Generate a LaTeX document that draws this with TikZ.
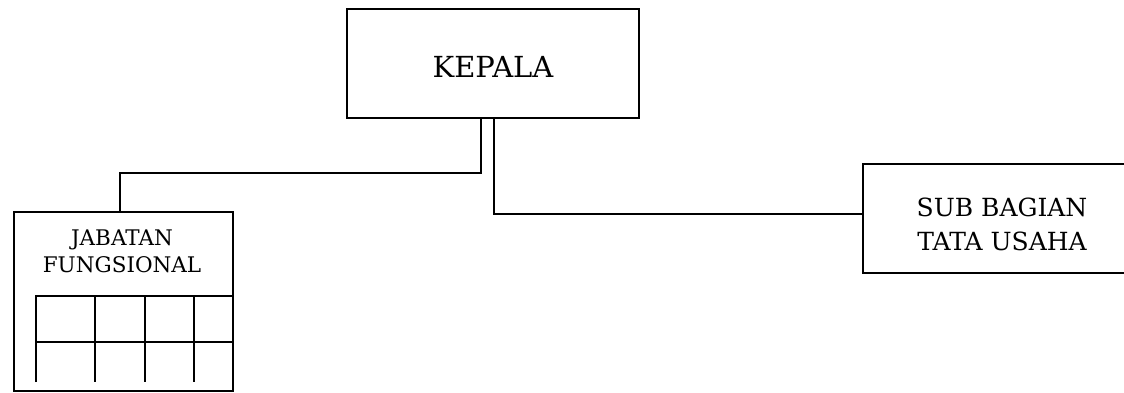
\documentclass[tikz,border=0pt]{standalone}
\usepackage{fontspec}
\setmainfont{DejaVu Serif}
\begin{document}
\begin{tikzpicture}[x=1pt,y=-1pt,
  boxstyle/.style={draw,line width=2.6pt,inner sep=0pt},
  wire/.style={line width=2.6pt},
  grid/.style={line width=2.4pt},
  lbl/.style={inner sep=0pt,align=center}]
\useasboundingbox (0,0) rectangle (1124,393);
% boxes
\node[boxstyle,minimum width=292pt,minimum height=109pt] (kep) at (493,63.5) {};
\node[lbl,font=\fontsize{29}{36}\selectfont] (keptxt) at (493,67) {KEPALA};
\node[boxstyle,minimum width=219pt,minimum height=179pt] (jab) at (123.5,301.5) {};
\node[lbl,font=\fontsize{21.5}{27}\selectfont] (jabtxt) at (122,251) {JABATAN\\FUNGSIONAL};
\node[boxstyle,minimum width=300pt,minimum height=109pt] (sub) at (1013,218.5) {};
\node[lbl,font=\fontsize{25}{34}\selectfont] (subtxt) at (1002,224) {SUB BAGIAN\\TATA USAHA};
% grid inside JABATAN FUNGSIONAL
\draw[grid] (36,382) -- (36,296) -- (jab.east |- 0,296);
\draw[grid] (36,342) -- (jab.east |- 0,342);
\foreach \gx in {95,145,194} \draw[grid] (\gx,296) -- (\gx,382);
% connectors
\coordinate (a1) at (481,173);
\coordinate (a2) at (120,173);
\coordinate (b1) at (494,214);
\draw[wire] (kep.south -| a1) -- (a1) -- (a2) -- (jab.north -| a2);
\draw[wire] (kep.south -| b1) -- (b1) -- (sub.west |- b1);
\end{tikzpicture}
\end{document}
